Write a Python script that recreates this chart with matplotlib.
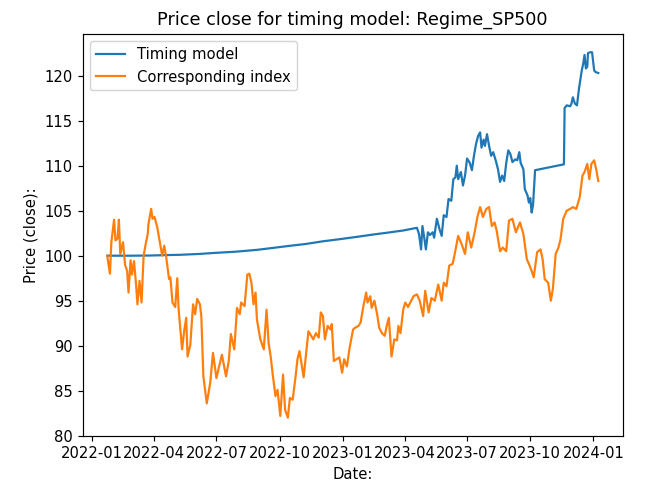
import pandas as pd
import matplotlib
matplotlib.use("Agg")
import matplotlib.pyplot as plt

model_name = "Regime_SP500"

# corresponding index (close, rebased to 100)
index_dates = [
    "2022-01-23", "2022-01-27", "2022-01-29", "2022-02-02", "2022-02-04", "2022-02-07", "2022-02-09",
    "2022-02-11", "2022-02-15", "2022-02-18", "2022-02-21", "2022-02-23", "2022-02-26", "2022-02-28",
    "2022-03-03", "2022-03-06", "2022-03-08", "2022-03-11", "2022-03-14", "2022-03-17", "2022-03-20",
    "2022-03-23", "2022-03-24", "2022-03-28", "2022-03-30", "2022-04-02", "2022-04-06", "2022-04-09",
    "2022-04-13", "2022-04-16", "2022-04-19", "2022-04-23", "2022-04-25", "2022-04-28", "2022-05-02",
    "2022-05-05", "2022-05-07", "2022-05-12", "2022-05-15", "2022-05-18", "2022-05-20", "2022-05-24",
    "2022-05-28", "2022-05-31", "2022-06-03", "2022-06-07", "2022-06-09", "2022-06-12", "2022-06-17",
    "2022-06-22", "2022-06-26", "2022-07-01", "2022-07-04", "2022-07-09", "2022-07-15", "2022-07-19",
    "2022-07-22", "2022-07-27", "2022-07-31", "2022-08-04", "2022-08-06", "2022-08-11", "2022-08-15",
    "2022-08-18", "2022-08-21", "2022-08-24", "2022-08-27", "2022-08-29", "2022-09-03", "2022-09-08",
    "2022-09-12", "2022-09-15", "2022-09-18", "2022-09-21", "2022-09-25", "2022-09-28", "2022-10-02",
    "2022-10-06", "2022-10-09", "2022-10-13", "2022-10-16", "2022-10-20", "2022-10-24", "2022-10-27",
    "2022-10-30", "2022-11-05", "2022-11-12", "2022-11-16", "2022-11-19", "2022-11-23", "2022-11-27",
    "2022-11-30", "2022-12-03", "2022-12-06", "2022-12-10", "2022-12-14", "2022-12-16", "2022-12-19",
    "2022-12-23", "2022-12-27", "2022-12-31", "2023-01-03", "2023-01-07", "2023-01-11", "2023-01-16",
    "2023-01-19", "2023-01-24", "2023-01-27", "2023-01-31", "2023-02-04", "2023-02-06", "2023-02-10",
    "2023-02-12", "2023-02-16", "2023-02-20", "2023-02-23", "2023-02-27", "2023-03-03", "2023-03-06",
    "2023-03-09", "2023-03-13", "2023-03-17", "2023-03-21", "2023-03-23", "2023-03-26", "2023-03-30",
    "2023-04-02", "2023-04-06", "2023-04-14", "2023-04-19", "2023-04-23", "2023-04-28", "2023-05-01",
    "2023-05-06", "2023-05-10", "2023-05-15", "2023-05-20", "2023-05-25", "2023-05-28", "2023-06-01",
    "2023-06-05", "2023-06-10", "2023-06-13", "2023-06-18", "2023-06-23", "2023-06-28", "2023-07-02",
    "2023-07-07", "2023-07-12", "2023-07-16", "2023-07-20", "2023-07-24", "2023-07-29", "2023-08-02",
    "2023-08-06", "2023-08-10", "2023-08-13", "2023-08-18", "2023-08-22", "2023-08-27", "2023-08-31",
    "2023-09-05", "2023-09-10", "2023-09-16", "2023-09-21", "2023-09-26", "2023-09-29", "2023-10-03",
    "2023-10-06", "2023-10-11", "2023-10-16", "2023-10-19", "2023-10-22", "2023-10-27", "2023-10-31",
    "2023-11-03", "2023-11-07", "2023-11-11", "2023-11-14", "2023-11-18", "2023-11-23", "2023-11-28",
    "2023-12-02", "2023-12-07", "2023-12-12", "2023-12-16", "2023-12-19", "2023-12-23", "2023-12-26",
    "2023-12-29", "2024-01-02", "2024-01-05", "2024-01-08",
]
index_close = [
    100.0, 98.0, 101.5, 104.0, 101.7, 101.9, 104.0,
    100.2, 101.5, 99.0, 98.3, 95.9, 99.5, 97.9,
    99.4, 96.8, 94.6, 97.2, 94.8, 100.0, 101.3,
    102.4, 103.5, 105.2, 104.1, 104.3, 103.1, 101.8,
    100.0, 101.1, 99.8, 97.4, 97.6, 94.8, 94.3,
    97.5, 94.0, 89.6, 91.6, 93.1, 88.8, 90.1,
    94.6, 93.5, 95.2, 94.6, 93.3, 86.6, 83.6,
    85.9, 89.2, 86.4, 87.4, 89.0, 86.6, 88.3,
    91.3, 89.6, 94.2, 93.5, 94.8, 94.4, 97.9,
    98.0, 97.0, 94.6, 95.9, 92.9, 90.7, 89.6,
    94.0, 90.3, 88.8, 86.8, 84.4, 85.1, 82.2,
    86.8, 82.9, 82.0, 84.2, 84.0, 86.4, 88.5,
    89.4, 86.5, 91.6, 91.1, 90.7, 91.4, 90.9,
    93.7, 93.3, 90.7, 92.2, 91.8, 92.4, 88.3,
    88.5, 88.7, 87.0, 88.5, 87.7, 89.8, 91.8,
    92.0, 92.2, 92.6, 94.4, 95.9, 94.8, 95.5,
    94.2, 95.0, 93.5, 92.0, 91.4, 91.1, 92.2,
    93.1, 88.8, 90.7, 90.6, 92.2, 91.4, 94.0,
    94.8, 94.3, 95.5, 95.7, 95.0, 93.3, 96.1,
    93.7, 95.3, 95.0, 96.8, 95.0, 97.0, 96.6,
    98.9, 99.1, 100.2, 102.2, 101.3, 100.2, 102.6,
    100.9, 102.6, 104.3, 105.4, 104.3, 105.2, 105.4,
    103.3, 103.7, 102.8, 100.5, 100.9, 100.5, 103.9,
    104.1, 102.6, 103.7, 102.4, 99.6, 99.1, 98.3,
    97.6, 100.4, 100.7, 99.6, 97.4, 97.0, 95.0,
    96.4, 100.2, 100.9, 101.8, 104.1, 105.0, 105.2,
    105.4, 105.2, 106.5, 108.9, 109.3, 110.2, 108.5,
    110.2, 110.6, 109.6, 108.3,
]

# timing model equity (close, rebased to 100)
model_dates = [
    "2022-01-23", "2022-02-26", "2022-03-26", "2022-04-14", "2022-05-09", "2022-06-07", "2022-06-26",
    "2022-07-30", "2022-08-29", "2022-09-25", "2022-10-16", "2022-11-08", "2022-12-03", "2022-12-29",
    "2023-01-22", "2023-02-14", "2023-03-11", "2023-03-30", "2023-04-19", "2023-04-22", "2023-04-25",
    "2023-04-27", "2023-04-30", "2023-05-02", "2023-05-05", "2023-05-08", "2023-05-12", "2023-05-14",
    "2023-05-18", "2023-05-22", "2023-05-25", "2023-05-28", "2023-06-01", "2023-06-04", "2023-06-08",
    "2023-06-11", "2023-06-14", "2023-06-16", "2023-06-18", "2023-06-22", "2023-06-25", "2023-06-28",
    "2023-07-01", "2023-07-05", "2023-07-08", "2023-07-11", "2023-07-14", "2023-07-17", "2023-07-20",
    "2023-07-22", "2023-07-25", "2023-07-27", "2023-07-30", "2023-08-02", "2023-08-05", "2023-08-08",
    "2023-08-12", "2023-08-15", "2023-08-18", "2023-08-21", "2023-08-24", "2023-08-27", "2023-08-30",
    "2023-09-02", "2023-09-05", "2023-09-09", "2023-09-12", "2023-09-15", "2023-09-17", "2023-09-21",
    "2023-09-23", "2023-09-27", "2023-09-29", "2023-10-01", "2023-10-03", "2023-10-05", "2023-10-08",
    "2023-11-19", "2023-11-20", "2023-11-23", "2023-11-28", "2023-11-30", "2023-12-02", "2023-12-05",
    "2023-12-08", "2023-12-11", "2023-12-15", "2023-12-17", "2023-12-19", "2023-12-21", "2023-12-23",
    "2023-12-24", "2023-12-27", "2023-12-30", "2024-01-02", "2024-01-04", "2024-01-08",
]
model_close = [
    100.0, 100.0, 100.02, 100.06, 100.1, 100.2, 100.3,
    100.45, 100.65, 100.9, 101.1, 101.3, 101.6, 101.85,
    102.1, 102.35, 102.6, 102.8, 103.1, 102.4, 100.7,
    103.3, 101.8, 100.7, 102.6, 102.3, 102.6, 102.0,
    104.1, 102.9, 102.2, 104.5, 104.3, 106.3, 106.1,
    108.5, 108.7, 110.0, 108.5, 109.3, 107.8, 108.9,
    110.8, 110.3, 109.5, 111.1, 112.4, 113.3, 113.7,
    112.0, 112.9, 112.2, 113.5, 112.2, 111.1, 111.5,
    110.5, 109.6, 108.2, 108.9, 108.3, 110.3, 111.7,
    111.3, 110.4, 110.7, 110.6, 111.5, 110.3, 109.6,
    107.4, 106.7, 105.9, 106.4, 104.8, 105.6, 109.5,
    110.15, 116.4, 116.7, 116.6, 116.9, 117.6, 116.9,
    116.7, 118.6, 120.6, 121.3, 122.3, 120.8, 121.0,
    122.5, 122.6, 122.6, 120.6, 120.4, 120.3,
]

model = pd.Series(model_close, index=pd.to_datetime(model_dates))
index = pd.Series(index_close, index=pd.to_datetime(index_dates))

fig, ax = plt.subplots(figsize=(6.264, 4.717), dpi=106)
fig.subplots_adjust(left=0.1245, right=0.938, bottom=0.128, top=0.932)

ax.plot(model.index, model.values, label="Timing model")
ax.plot(index.index, index.values, label="Corresponding index")

ax.set_title("Price close for timing model: " + model_name)
ax.set_xlabel("Date:")
ax.set_ylabel("Price (close):")
ax.legend(loc="upper left")

fig.savefig("out.png", dpi=106)
